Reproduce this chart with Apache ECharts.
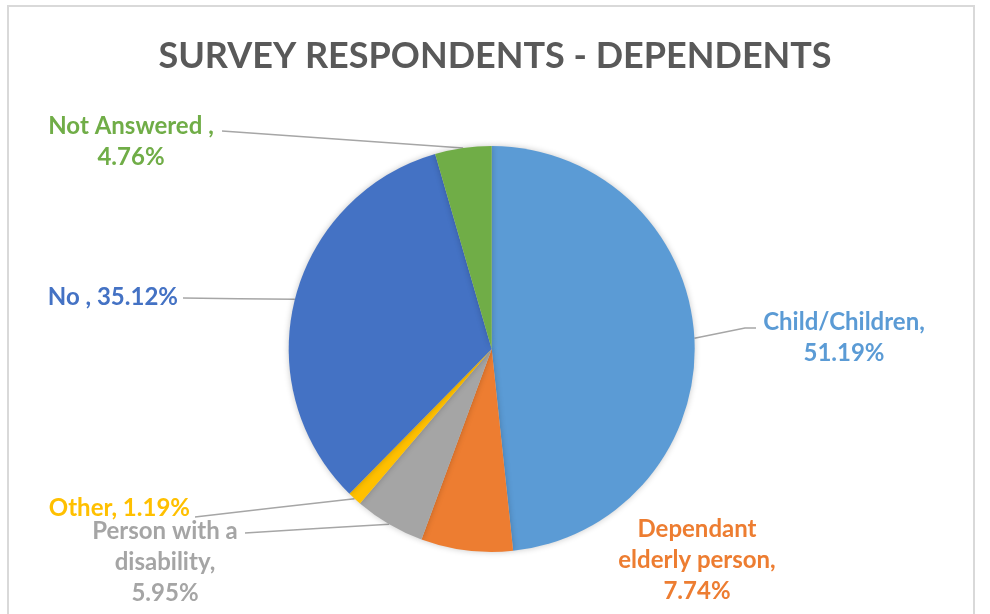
<!DOCTYPE html>
<html>
<head>
<meta charset="utf-8">
<script src="https://cdn.jsdelivr.net/npm/echarts@6/dist/echarts.min.js"></script>
<style>
  html, body { margin: 0; padding: 0; background: #ffffff; }
  #chart { width: 990px; height: 614px; }
</style>
</head>
<body>
<div id="chart"></div>
<script>
// Survey respondents grouped by type of dependant (percent of respondents)
const categories = [
  'Child/Children',
  'Dependant elderly person',
  'Person with a disability',
  'Other',
  'No',
  'Not Answered'
];
const percentValues = [51.19, 7.74, 5.95, 1.19, 35.12, 4.76];
// Label wording per slice; {v} is replaced with the slice value
const labelTemplates = [
  'Child/Children,\n{v}%',
  'Dependant\nelderly person,\n{v}%',
  'Person with a\ndisability,\n{v}%',
  'Other, {v}%',
  'No , {v}%',
  'Not Answered ,\n{v}%'
];
const sliceColors = ['#5B9BD5', '#ED7D31', '#A5A5A5', '#FFC000', '#4472C4', '#70AD47'];

// Where each label block sits around the pie, and where its leader line ends
const labelSpots = [
  { x: 844, y: 338, align: 'center', bend: [745, 328], end: [756, 328] },
  { x: 697, y: 560, align: 'center', bend: null, end: null },
  { x: 165, y: 562, align: 'center', bend: null, end: [245, 533] },
  { x: 190, y: 508, align: 'right', bend: null, end: [195, 517] },
  { x: 178, y: 297, align: 'right', bend: null, end: [183, 298] },
  { x: 131, y: 142, align: 'center', bend: null, end: [222, 131] }
];

const chart = echarts.init(document.getElementById('chart'), null, { renderer: 'canvas' });

const fontFamily = 'Lato, "Open Sans", sans-serif';

chart.setOption({
  animation: false,
  backgroundColor: '#ffffff',
  graphic: [{
    type: 'rect',
    shape: { x: 8, y: 6, width: 966, height: 640 },
    style: { fill: 'none', stroke: '#d9d9d9', lineWidth: 2 },
    silent: true,
    z: -1
  }],
  title: {
    text: 'SURVEY RESPONDENTS - DEPENDENTS',
    left: 'center',
    top: 33,
    textStyle: {
      fontFamily: fontFamily,
      fontWeight: 'bold',
      fontSize: 36,
      color: '#595959'
    }
  },
  series: [{
    type: 'pie',
    center: [491.7, 349],
    radius: 203,
    startAngle: 90,
    clockwise: true,
    avoidLabelOverlap: false,
    data: categories.map((name, i) => ({
      name: name,
      value: percentValues[i],
      itemStyle: { color: sliceColors[i] },
      label: { color: sliceColors[i] },
      labelLine: { show: labelSpots[i].end !== null }
    })),
    itemStyle: {
      borderWidth: 0,
      shadowBlur: 6,
      shadowColor: 'rgba(0,0,0,0.22)'
    },
    label: {
      show: true,
      position: 'outside',
      fontFamily: fontFamily,
      fontWeight: 'bold',
      fontSize: 24,
      lineHeight: 31,
      align: 'center',
      formatter: (p) => labelTemplates[p.dataIndex].replace('{v}', p.value.toFixed(2))
    },
    labelLine: {
      show: true,
      length: 10,
      length2: 10,
      lineStyle: { color: '#A6A6A6', width: 1.5 }
    },
    labelLayout: (params) => {
      const s = labelSpots[params.dataIndex];
      const out = { x: s.x, y: s.y, align: s.align, verticalAlign: 'middle' };
      if (s.end && params.labelLinePoints) {
        const start = params.labelLinePoints[0];
        const bend = s.bend || [(start[0] + s.end[0]) / 2, (start[1] + s.end[1]) / 2];
        out.labelLinePoints = [start, bend, s.end];
      }
      return out;
    },
    emphasis: { disabled: true }
  }]
});
</script>
</body>
</html>
